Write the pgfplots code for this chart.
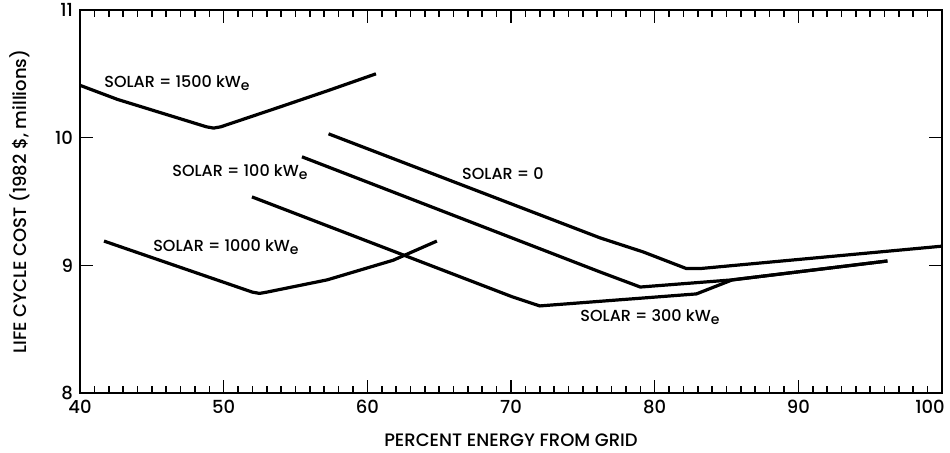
\documentclass[border=0pt]{standalone}
\usepackage{pgfplots}
\pgfplotsset{compat=1.18}
\usepackage{fontspec}
\setmainfont{Poppins}[BoldFont={Poppins Medium}]
\newcommand{\kWe}{kW\raisebox{-0.35ex}{\scriptsize e}}
\newcommand{\lf}{\fontsize{8}{10}\selectfont\bfseries}
\newcommand{\af}{\fontsize{9}{11}\selectfont\bfseries}
\begin{document}
\begin{tikzpicture}
\begin{axis}[
  scale only axis,
  width=431pt, height=191.5pt,
  xmin=40, xmax=100, ymin=8, ymax=11,
  xtick={40,50,...,100}, ytick={8,9,10,11},
  xticklabels={40,50,60,70,80,90,{\hspace*{-12pt}100}},
  minor x tick num=9,
  tick align=inside,
  major tick length=6.5pt, minor tick length=3.5pt,
  axis line style={line width=1pt},
  every tick/.style={black, line width=0.8pt},
  /pgf/number format/assume math mode=true,
  tick label style={font=\af},
  label style={font=\af},
  xlabel={PERCENT ENERGY FROM GRID},
  ylabel={LIFE CYCLE COST (1982 \$, millions)},
  xlabel style={yshift=-3pt},
  ylabel style={yshift=6pt},
  clip=false,
]
% SOLAR = 1500 kWe
\addplot[black, line width=1.6pt, line join=round] coordinates {
(40.0,10.41) (42.6,10.30) (48.8,10.085) (49.3,10.075) (49.8,10.085) (53.9,10.24) (57.3,10.37) (60.6,10.50)};
% SOLAR = 0
\addplot[black, line width=1.6pt, line join=round] coordinates {
(57.3,10.03) (76.2,9.215) (79.2,9.105) (82.2,8.975) (83.2,8.975) (100,9.15)};
% SOLAR = 100 kWe
\addplot[black, line width=1.6pt, line join=round] coordinates {
(55.45,9.85) (76.2,8.948) (79.0,8.83) (85.4,8.886) (96.2,9.034)};
% SOLAR = 300 kWe
\addplot[black, line width=1.6pt, line join=round] coordinates {
(51.97,9.536) (70.1,8.753) (72.0,8.682) (82.9,8.776) (85.4,8.886) (96.2,9.034)};
% SOLAR = 1000 kWe
\addplot[black, line width=1.6pt, line join=round] coordinates {
(41.67,9.19) (52.0,8.79) (52.5,8.78) (53.0,8.79) (57.2,8.886) (61.8,9.04) (64.84,9.19)};

\node[font=\lf] at (axis cs:46.75,10.43) {SOLAR = 1500 \kWe};
\node[font=\lf] at (axis cs:51.13,9.73) {SOLAR = 100 \kWe};
\node[font=\lf] at (axis cs:69.44,9.72) {SOLAR = 0};
\node[font=\lf] at (axis cs:50.16,9.14) {SOLAR = 1000 \kWe};
\node[font=\lf] at (axis cs:79.67,8.596) {SOLAR = 300 \kWe};
\end{axis}
\pgfresetboundingbox
\path ([xshift=-40pt,yshift=-30pt]current axis.south west) rectangle ([xshift=4pt,yshift=5pt]current axis.north east);
\end{tikzpicture}
\end{document}
